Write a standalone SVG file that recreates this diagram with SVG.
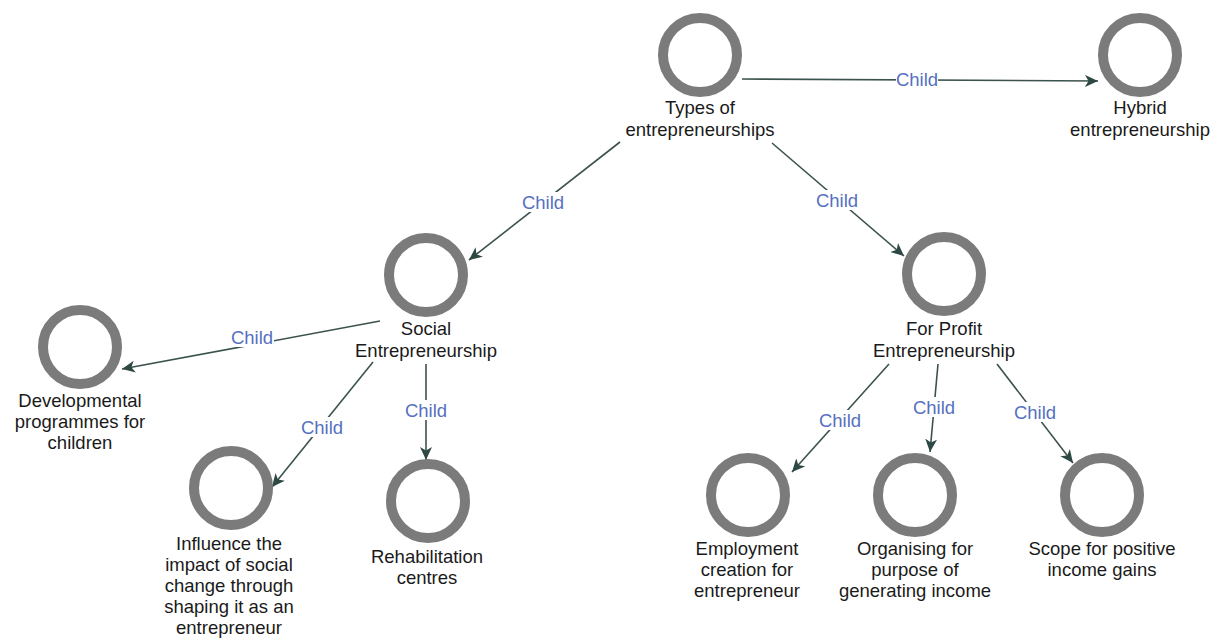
<svg xmlns="http://www.w3.org/2000/svg" width="1222" height="641" viewBox="0 0 1222 641">
  <style>
    .ring { fill: #ffffff; stroke: #7b7b7b; stroke-width: 10; }
    .name { font-family: "Liberation Sans", Arial, sans-serif; font-size: 18.5px; fill: #1a1a1a; text-anchor: middle; }
    .edge { stroke: #3c524e; stroke-width: 1.6; fill: none; marker-end: url(#arrow); }
    .tag-bg { fill: #ffffff; }
    .tag { font-family: "Liberation Sans", Arial, sans-serif; font-size: 18.5px; fill: #5670bf; text-anchor: middle; }
  </style>
  <defs>
    <marker id="arrow" markerUnits="userSpaceOnUse" markerWidth="14" markerHeight="12" refX="13" refY="6" orient="auto">
      <path d="M0,0 L13,6 L0,12 L3.5,6 Z" fill="#2e4843"/>
    </marker>
  </defs>
  <rect width="1222" height="641" fill="#ffffff"/>

  <!-- connectors with their "Child" labels -->
  <g id="connectors">
    <line class="edge" x1="742" y1="79" x2="1098" y2="81"/>
    <line class="edge" x1="620" y1="142" x2="469" y2="260"/>
    <line class="edge" x1="772" y1="143" x2="904" y2="256"/>
    <line class="edge" x1="380" y1="321" x2="122" y2="369"/>
    <line class="edge" x1="373" y1="362" x2="272" y2="487"/>
    <line class="edge" x1="426" y1="364" x2="426" y2="460"/>
    <line class="edge" x1="889" y1="364" x2="792" y2="472"/>
    <line class="edge" x1="938" y1="364" x2="930" y2="452"/>
    <line class="edge" x1="997" y1="364" x2="1073" y2="463"/>

    <rect class="tag-bg" x="896" y="69" width="42" height="20"/>
    <text class="tag" x="917" y="86">Child</text>
    <rect class="tag-bg" x="521" y="192" width="44" height="20"/>
    <text class="tag" x="543" y="209">Child</text>
    <rect class="tag-bg" x="815" y="190" width="44" height="20"/>
    <text class="tag" x="837" y="207">Child</text>
    <rect class="tag-bg" x="230" y="327" width="44" height="20"/>
    <text class="tag" x="252" y="344">Child</text>
    <rect class="tag-bg" x="300" y="417" width="44" height="20"/>
    <text class="tag" x="322" y="434">Child</text>
    <rect class="tag-bg" x="404" y="400" width="44" height="20"/>
    <text class="tag" x="426" y="417">Child</text>
    <rect class="tag-bg" x="818" y="410" width="44" height="20"/>
    <text class="tag" x="840" y="427">Child</text>
    <rect class="tag-bg" x="912" y="397" width="44" height="20"/>
    <text class="tag" x="934" y="414">Child</text>
    <rect class="tag-bg" x="1013" y="402" width="44" height="20"/>
    <text class="tag" x="1035" y="419">Child</text>
  </g>

  <g id="types-of-entrepreneurships">
    <circle class="ring" cx="700" cy="55" r="37"/>
    <text class="name" x="700" y="114">Types of</text>
    <text class="name" x="700" y="136">entrepreneurships</text>
  </g>

  <g id="hybrid-entrepreneurship">
    <circle class="ring" cx="1140" cy="55" r="37"/>
    <text class="name" x="1140" y="114">Hybrid</text>
    <text class="name" x="1140" y="136">entrepreneurship</text>
  </g>

  <g id="social-entrepreneurship">
    <circle class="ring" cx="426" cy="275" r="37"/>
    <text class="name" x="426" y="335">Social</text>
    <text class="name" x="426" y="357">Entrepreneurship</text>
  </g>

  <g id="for-profit-entrepreneurship">
    <circle class="ring" cx="944" cy="274" r="37"/>
    <text class="name" x="944" y="335">For Profit</text>
    <text class="name" x="944" y="357">Entrepreneurship</text>
  </g>

  <g id="developmental-programmes">
    <circle class="ring" cx="80" cy="347" r="37"/>
    <text class="name" x="80" y="407">Developmental</text>
    <text class="name" x="80" y="428">programmes for</text>
    <text class="name" x="80" y="449">children</text>
  </g>

  <g id="influence-social-change">
    <circle class="ring" cx="231" cy="488" r="37"/>
    <text class="name" x="229" y="550">Influence the</text>
    <text class="name" x="229" y="571">impact of social</text>
    <text class="name" x="229" y="592">change through</text>
    <text class="name" x="229" y="613">shaping it as an</text>
    <text class="name" x="229" y="634">entrepreneur</text>
  </g>

  <g id="rehabilitation-centres">
    <circle class="ring" cx="428" cy="501" r="37"/>
    <text class="name" x="427" y="563">Rehabilitation</text>
    <text class="name" x="427" y="584">centres</text>
  </g>

  <g id="employment-creation">
    <circle class="ring" cx="748" cy="495" r="37"/>
    <text class="name" x="747" y="555">Employment</text>
    <text class="name" x="747" y="576">creation for</text>
    <text class="name" x="747" y="597">entrepreneur</text>
  </g>

  <g id="organising-for-income">
    <circle class="ring" cx="915" cy="495" r="37"/>
    <text class="name" x="915" y="555">Organising for</text>
    <text class="name" x="915" y="576">purpose of</text>
    <text class="name" x="915" y="597">generating income</text>
  </g>

  <g id="scope-positive-income">
    <circle class="ring" cx="1102" cy="495" r="37"/>
    <text class="name" x="1102" y="555">Scope for positive</text>
    <text class="name" x="1102" y="576">income gains</text>
  </g>
</svg>
